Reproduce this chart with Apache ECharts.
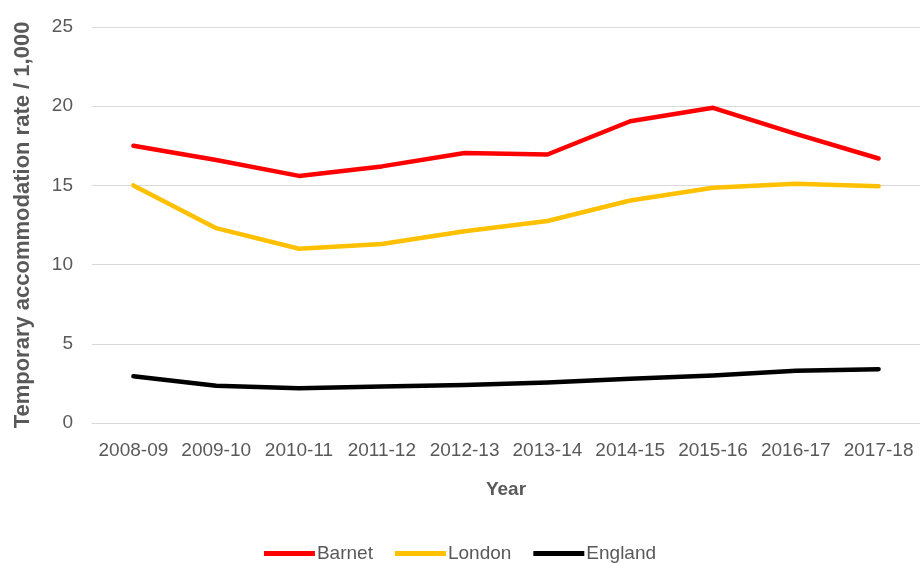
<!DOCTYPE html>
<html>
<head>
<meta charset="utf-8">
<script src="https://cdn.jsdelivr.net/npm/echarts@6/dist/echarts.min.js"></script>
<style>
  html, body { margin: 0; padding: 0; background: #fff; }
  #chart { width: 920px; height: 563px; }
</style>
</head>
<body>
<div id="chart"></div>
<script>
// Temporary accommodation rate per 1,000 households
const years = ['2008-09', '2009-10', '2010-11', '2011-12', '2012-13', '2013-14', '2014-15', '2015-16', '2016-17', '2017-18'];
const barnet = [17.5, 16.6, 15.6, 16.2, 17.05, 16.95, 19.05, 19.9, 18.25, 16.7];
const london = [15.0, 12.3, 11.0, 11.3, 12.1, 12.75, 14.05, 14.85, 15.1, 14.95];
const england = [2.95, 2.35, 2.2, 2.3, 2.4, 2.55, 2.8, 3.0, 3.3, 3.4];

const font = "'Liberation Sans', Arial, sans-serif";
const textGrey = '#595959';

function lineSeries(name, data, color) {
  return {
    name: name,
    type: 'line',
    data: data,
    symbol: 'none',
    smooth: false,
    lineStyle: { color: color, width: 4.5, cap: 'round', join: 'round' },
    itemStyle: { color: color }
  };
}

const chart = echarts.init(document.getElementById('chart'));
chart.setOption({
  animation: false,
  backgroundColor: '#fff',
  grid: { left: 92, right: 0, top: 27, bottom: 140, containLabel: false },
  legend: {
    top: 539,
    left: 'center',
    icon: 'rect',
    itemWidth: 51,
    itemHeight: 5,
    itemGap: 22,
    textStyle: { fontFamily: font, fontSize: 19, color: textGrey, padding: [0, 0, 0, -3] },
    data: ['Barnet', 'London', 'England']
  },
  xAxis: {
    type: 'category',
    data: years,
    boundaryGap: true,
    axisLine: { show: true, lineStyle: { color: '#d9d9d9', width: 1 } },
    axisTick: { show: false },
    axisLabel: { fontFamily: font, fontSize: 19, color: textGrey, margin: 18, interval: 0 },
    name: 'Year',
    nameLocation: 'middle',
    nameGap: 57,
    nameTextStyle: { fontFamily: font, fontSize: 19, fontWeight: 'bold', color: textGrey }
  },
  yAxis: {
    type: 'value',
    min: 0,
    max: 25,
    interval: 5,
    axisLine: { show: false },
    axisTick: { show: false },
    splitLine: { lineStyle: { color: '#d9d9d9', width: 1 } },
    axisLabel: { fontFamily: font, fontSize: 19, color: textGrey, margin: 19 },
    name: 'Temporary accommodation rate / 1,000',
    nameLocation: 'middle',
    nameGap: 58,
    nameTextStyle: { fontFamily: font, fontSize: 22, fontWeight: 'bold', color: textGrey }
  },
  series: [
    lineSeries('Barnet', barnet, '#ff0000'),
    lineSeries('London', london, '#ffc000'),
    lineSeries('England', england, '#000000')
  ]
});
</script>
</body>
</html>
